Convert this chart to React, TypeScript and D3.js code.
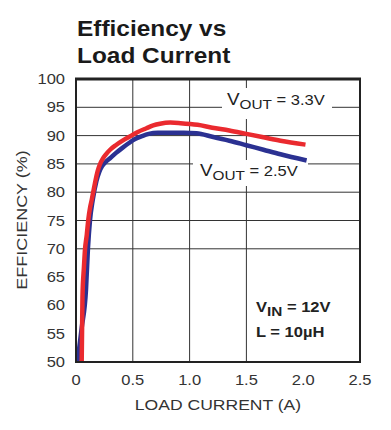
import React, { useEffect, useRef } from 'react';
import * as d3 from 'd3';

// axis ticks
const xTicks = [0, 0.5, 1.0, 1.5, 2.0, 2.5];
const xTickLabels = ['0', '0.5', '1.0', '1.5', '2.0', '2.5'];
const yTicks = [50, 55, 60, 65, 70, 75, 80, 85, 90, 95, 100];
// the datasheet only keeps some of the grid lines
const xGridLines = [0.5, 1.0, 1.5];
const yGridLines = [70, 75, 80, 85, 90, 95];

// VOUT = 3.3V (red)
const current33 = [0.05, 0.057, 0.07, 0.079, 0.095, 0.108, 0.125, 0.138, 0.167, 0.19, 0.21, 0.235, 0.26, 0.3, 0.35, 0.41, 0.47, 0.54, 0.62, 0.68, 0.74, 0.83, 0.92, 1.07, 1.2, 1.35, 1.5, 1.65, 1.8, 2.02];
const eff33 = [50, 61.5, 66.8, 69.8, 72.5, 75.1, 77.4, 78.6, 81.6, 83.7, 84.9, 85.9, 86.6, 87.5, 88.3, 89.1, 89.8, 90.6, 91.3, 91.8, 92.1, 92.3, 92.2, 91.9, 91.4, 90.9, 90.3, 89.7, 89.1, 88.4];

// VOUT = 2.5V (blue)
const current25 = [0.013, 0.05, 0.088, 0.105, 0.123, 0.147, 0.18, 0.205, 0.23, 0.26, 0.3, 0.35, 0.4, 0.46, 0.52, 0.58, 0.64, 0.72, 0.8, 0.95, 1.06, 1.2, 1.35, 1.5, 1.65, 1.8, 2.03];
const eff25 = [50, 56, 62.8, 70, 75, 78.6, 82, 83.6, 84.6, 85.3, 86, 86.9, 87.7, 88.6, 89.4, 89.9, 90.3, 90.5, 90.5, 90.5, 90.4, 89.8, 89.1, 88.3, 87.5, 86.7, 85.6];

const FONT = '"Liberation Sans", Arial, Helvetica, sans-serif';
const STRETCH = 1.18; // the scanned lettering is wide

export default function App() {
  const svgRef = useRef<SVGSVGElement>(null);

  useEffect(() => {
    const width = 391;
    const height = 430;
    const svg = d3.select(svgRef.current).attr('width', width).attr('height', height);
    svg.selectAll('*').remove();

    svg.append('rect').attr('width', width).attr('height', height).attr('fill', '#fff');

    const x = d3.scaleLinear().domain([0, 2.5]).range([76, 360]);
    const y = d3.scaleLinear().domain([50, 100]).range([362, 79]);

    // helper: horizontally stretched text anchored at (tx, ty)
    const addText = (tx: number, ty: number, str: string, opts: any = {}) => {
      const g = svg.append('g')
        .attr('transform', `translate(${tx},${ty})${opts.rotate ? ` rotate(${opts.rotate})` : ''} scale(${opts.sx ?? STRETCH},1)`);
      return g.append('text')
        .attr('text-anchor', opts.anchor ?? 'start')
        .attr('font-family', FONT)
        .attr('font-size', opts.size ?? 14)
        .attr('font-weight', opts.weight ?? 'normal')
        .attr('fill', opts.fill ?? '#333')
        .text(str);
    };

    // grid
    svg.append('g').selectAll('line').data(yGridLines).join('line')
      .attr('x1', x(0)).attr('x2', x(2.5))
      .attr('y1', d => y(d)).attr('y2', d => y(d))
      .attr('stroke', '#333').attr('stroke-width', 1);
    svg.append('g').selectAll('line').data(xGridLines).join('line')
      .attr('x1', d => x(d)).attr('x2', d => x(d))
      .attr('y1', y(50)).attr('y2', y(100))
      .attr('stroke', '#333').attr('stroke-width', 1);

    // white knockouts behind the curve labels
    svg.append('rect').attr('x', 222).attr('y', 88).attr('width', 110).attr('height', 31).attr('fill', '#fff');
    svg.append('rect').attr('x', 193).attr('y', 160).attr('width', 115).attr('height', 26).attr('fill', '#fff');

    // curves
    const line = d3.line<[number, number]>()
      .x(d => x(d[0]))
      .y(d => y(d[1]))
      .curve(d3.curveMonotoneX);

    svg.append('path')
      .datum(d3.zip(current25, eff25) as [number, number][])
      .attr('d', line)
      .attr('fill', 'none')
      .attr('stroke', '#2b3192')
      .attr('stroke-width', 4.5);

    svg.append('path')
      .datum(d3.zip(current33, eff33) as [number, number][])
      .attr('d', line)
      .attr('fill', 'none')
      .attr('stroke', '#ea2a2f')
      .attr('stroke-width', 4.5);

    // frame
    svg.append('rect')
      .attr('x', x(0)).attr('y', y(100))
      .attr('width', x(2.5) - x(0)).attr('height', y(50) - y(100))
      .attr('fill', 'none').attr('stroke', '#222').attr('stroke-width', 2);
    svg.append('line')
      .attr('x1', x(0) - 1).attr('x2', x(2.5) + 1)
      .attr('y1', y(100)).attr('y2', y(100))
      .attr('stroke', '#222').attr('stroke-width', 3);

    // tick labels
    yTicks.forEach(t => addText(65, y(t) + 5, String(t), { anchor: 'end' }));
    xTicks.forEach((t, i) => addText(x(t), 385, xTickLabels[i], { anchor: 'middle' }));

    // axis titles
    addText(218, 410, 'LOAD CURRENT (A)', { anchor: 'middle', size: 15, sx: 1.17 });
    addText(27, 220, 'EFFICIENCY (%)', { anchor: 'middle', size: 15.5, sx: 1.16, rotate: -90 });

    // chart title
    addText(77, 36, 'Efficiency vs', { size: 22, weight: 'bold', fill: '#1a1a1a', sx: 1.11 });
    addText(77, 63, 'Load Current', { size: 22, weight: 'bold', fill: '#1a1a1a', sx: 1.11 });

    // curve labels
    const vout = (tx: number, ty: number, value: string) => {
      const t = addText(tx, ty, '', { size: 16, fill: '#222' });
      t.append('tspan').text('V');
      t.append('tspan').attr('font-size', 13).attr('dy', 4).text('OUT');
      t.append('tspan').attr('font-size', 14).attr('dy', -4).text(` = ${value}`);
    };
    vout(227, 105, '3.3V');
    vout(200, 176, '2.5V');

    // conditions
    const vin = addText(256, 312, '', { size: 14, weight: 'bold', fill: '#222' });
    vin.append('tspan').text('V');
    vin.append('tspan').attr('font-size', 13).attr('dy', 4).text('IN');
    vin.append('tspan').attr('dy', -4).text(' = 12V');
    addText(256, 337, 'L = 10\u00b5H', { size: 14, weight: 'bold', fill: '#222' });
  }, []);

  return <svg ref={svgRef} style={{ position: 'absolute', left: 0, top: 0, display: 'block' }} />;
}
